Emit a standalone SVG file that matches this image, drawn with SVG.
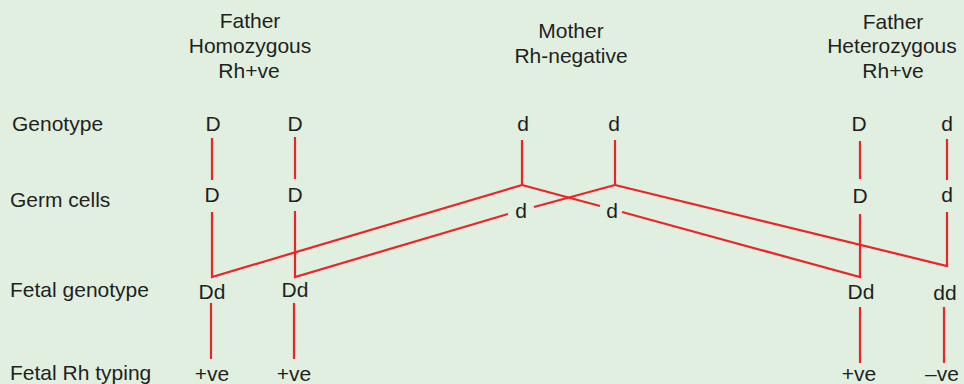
<svg xmlns="http://www.w3.org/2000/svg" width="964" height="384" viewBox="0 0 964 384">
<style>
text{font-family:"Liberation Sans",Arial,sans-serif;font-size:21px;fill:#231f20}
.c{text-anchor:middle}
.r{stroke:#ec2327;stroke-width:2.2;fill:none;stroke-linejoin:miter}
</style>
<rect width="964" height="384" fill="#e1efe0"/>
<g id="headers">
<g id="father-homo"><text class="c" x="250" y="28">Father</text><text class="c" x="250" y="53">Homozygous</text><text class="c" x="249" y="78">Rh+ve</text></g>
<g id="mother"><text class="c" x="571" y="38">Mother</text><text class="c" x="571" y="63">Rh-negative</text></g>
<g id="father-hetero"><text class="c" x="893" y="29">Father</text><text class="c" x="892" y="53">Heterozygous</text><text class="c" x="893" y="78">Rh+ve</text></g>
</g>
<g id="row-labels">
<text id="lbl-genotype" x="12" y="131">Genotype</text>
<text id="lbl-germ" x="10" y="207">Germ cells</text>
<text id="lbl-fetal-genotype" x="10" y="297">Fetal genotype</text>
<text id="lbl-fetal-rh" x="10" y="380">Fetal Rh typing</text>
</g>
<g id="genotype">
<text id="g1" class="c" x="213" y="131">D</text>
<text id="g2" class="c" x="295" y="131">D</text>
<text id="g3" class="c" x="523" y="131">d</text>
<text id="g4" class="c" x="614" y="131">d</text>
<text id="g5" class="c" x="859" y="131">D</text>
<text id="g6" class="c" x="947" y="131">d</text>
</g>
<g id="germ">
<text id="m1" class="c" x="212" y="202">D</text>
<text id="m2" class="c" x="295" y="202">D</text>
<text id="m3" class="c" x="521" y="218">d</text>
<text id="m4" class="c" x="612" y="218">d</text>
<text id="m5" class="c" x="860" y="203">D</text>
<text id="m6" class="c" x="947" y="202">d</text>
</g>
<g id="fetal">
<text id="f1" class="c" x="212" y="299">Dd</text>
<text id="f2" class="c" x="295" y="297">Dd</text>
<text id="f5" class="c" x="861" y="299">Dd</text>
<text id="f6" class="c" x="945" y="300">dd</text>
</g>
<g id="typing">
<text id="t1" class="c" x="212" y="381">+ve</text>
<text id="t2" class="c" x="294" y="381">+ve</text>
<text id="t5" class="c" x="859" y="381">+ve</text>
<text id="t6" class="c" x="942" y="381">–ve</text>
</g>
<g id="connectors" class="r">
<line x1="212" y1="138" x2="212" y2="180"/>
<line x1="295" y1="137" x2="295" y2="179"/>
<line x1="860" y1="141" x2="860" y2="179"/>
<line x1="947" y1="139" x2="947" y2="180"/>
<polyline points="212,212 212,277 522,185 522,140"/>
<polyline points="295,211 295,277 508,214"/>
<polyline points="534,207 615,185 615,140"/>
<polyline points="522,185 600,206"/>
<polyline points="622,212 860,277 860,214"/>
<polyline points="615,185 947,266 947,212"/>
<line x1="211" y1="303" x2="211" y2="359"/>
<line x1="294" y1="303" x2="294" y2="359"/>
<line x1="860" y1="307" x2="860" y2="363"/>
<line x1="944" y1="307" x2="944" y2="363"/>
</g>
</svg>
